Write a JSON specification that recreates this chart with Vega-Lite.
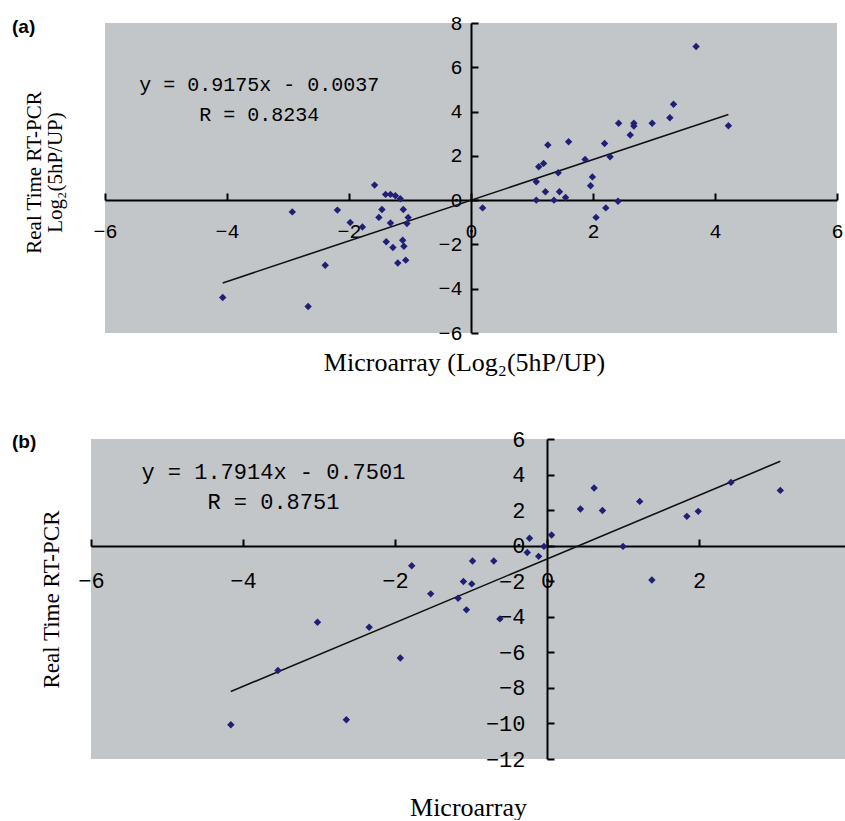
{
  "$schema": "https://vega.github.io/schema/vega-lite/v6.json",
  "background": "white",
  "padding": {"left": 12, "top": 13, "right": 0, "bottom": 0},
  "config": {
    "view": {"fill": "#c3c6c9", "stroke": null},
    "axis": {"grid": false, "domainColor": "black", "domainWidth": 2, "tickColor": "black", "tickWidth": 2, "tickSize": -7, "labelColor": "black", "titleColor": "black", "labelFont": "Liberation Mono", "labelFlush": false, "labelOverlap": false, "titleFont": "Liberation Serif", "titleFontWeight": "normal"},
    "title": {"font": "Liberation Sans", "fontWeight": "bold", "color": "black"}
  },
  "datasets": {
    "a_points": [
      {"x": -1.58, "y": 0.68}, {"x": -2.93, "y": -0.53}, {"x": -2.19, "y": -0.45}, {"x": -1.98, "y": -1.01},
      {"x": -1.78, "y": -1.21}, {"x": -1.46, "y": -0.42}, {"x": -1.51, "y": -0.78}, {"x": -1.40, "y": 0.26},
      {"x": -1.32, "y": 0.26}, {"x": -1.24, "y": 0.20}, {"x": -1.16, "y": 0.06}, {"x": -1.11, "y": -0.42},
      {"x": -1.03, "y": -0.78}, {"x": -1.05, "y": -1.06}, {"x": -1.32, "y": -1.03}, {"x": -1.39, "y": -1.88},
      {"x": -1.28, "y": -2.14}, {"x": -1.12, "y": -1.81}, {"x": -1.10, "y": -2.08}, {"x": -1.20, "y": -2.84},
      {"x": -1.07, "y": -2.71}, {"x": -2.39, "y": -2.94}, {"x": -4.07, "y": -4.40}, {"x": -2.67, "y": -4.80},
      {"x": 0.19, "y": -0.35}, {"x": 1.07, "y": 0.0}, {"x": 1.07, "y": 0.83}, {"x": 1.11, "y": 1.51},
      {"x": 1.19, "y": 1.66}, {"x": 1.26, "y": 2.49}, {"x": 1.22, "y": 0.38}, {"x": 1.36, "y": 0.0},
      {"x": 1.43, "y": 1.24}, {"x": 1.45, "y": 0.38}, {"x": 1.55, "y": 0.12}, {"x": 1.60, "y": 2.64},
      {"x": 1.87, "y": 1.84}, {"x": 1.96, "y": 0.65}, {"x": 1.99, "y": 1.05}, {"x": 2.05, "y": -0.78},
      {"x": 2.21, "y": -0.35}, {"x": 2.19, "y": 2.56}, {"x": 2.28, "y": 1.96}, {"x": 2.41, "y": -0.05},
      {"x": 2.42, "y": 3.47}, {"x": 2.61, "y": 2.94}, {"x": 2.67, "y": 3.47}, {"x": 2.67, "y": 3.35},
      {"x": 2.97, "y": 3.47}, {"x": 3.26, "y": 3.72}, {"x": 3.32, "y": 4.33}, {"x": 3.69, "y": 6.94},
      {"x": 4.22, "y": 3.36}
    ],
    "a_fit": [{"x": -4.07, "y": -3.738}, {"x": 4.22, "y": 3.868}],
    "a_eq": [{"x": -3.47, "y": 5.2}],
    "b_points": [
      {"x": -1.78, "y": -1.13}, {"x": -1.53, "y": -2.71}, {"x": -1.17, "y": -2.96}, {"x": -1.10, "y": -2.02},
      {"x": -1.06, "y": -3.61}, {"x": -3.02, "y": -4.31}, {"x": -2.34, "y": -4.59}, {"x": -3.54, "y": -7.02},
      {"x": -1.93, "y": -6.32}, {"x": -4.16, "y": -10.07}, {"x": -2.64, "y": -9.79},
      {"x": -0.98, "y": -0.86}, {"x": -0.70, "y": -0.86}, {"x": -0.99, "y": -2.15}, {"x": -0.62, "y": -4.12},
      {"x": -0.23, "y": 0.42}, {"x": -0.26, "y": -0.38}, {"x": -0.11, "y": -0.60}, {"x": -0.04, "y": -0.04},
      {"x": 0.06, "y": 0.60}, {"x": 0.44, "y": 2.06}, {"x": 0.62, "y": 3.24}, {"x": 0.73, "y": 1.98},
      {"x": 1.00, "y": -0.04}, {"x": 1.22, "y": 2.49}, {"x": 1.38, "y": -1.93}, {"x": 1.84, "y": 1.65},
      {"x": 1.99, "y": 1.93}, {"x": 2.42, "y": 3.56}, {"x": 3.07, "y": 3.11}
    ],
    "b_fit": [{"x": -4.16, "y": -8.202}, {"x": 3.07, "y": 4.7495}],
    "b_eq": [{"x": -3.6, "y": 4.16}]
  },
  "vconcat": [
    {
      "width": 732,
      "height": 310,
      "title": {"text": "(a)", "anchor": "start", "frame": "group", "fontSize": 19, "dx": -93, "dy": 39, "offset": 0, "baseline": "alphabetic"},
      "encoding": {
        "x": {"field": "x", "type": "quantitative",
          "scale": {"domain": [-6, 6], "nice": false, "zero": false},
          "axis": {"orient": "bottom", "offset": -133, "values": [-6, -4, -2, 0, 2, 4, 6], "format": "d", "labelFontSize": 20, "labelPadding": 28,
            "title": "Microarray (Log₂(5hP/UP)", "titleFontSize": 26, "titleX": 359, "titleY": 170, "titleAlign": "center", "titleBaseline": "alphabetic"}},
        "y": {"field": "y", "type": "quantitative",
          "scale": {"domain": [-6, 8], "nice": false, "zero": false},
          "axis": {"orient": "left", "offset": -366, "values": [-6, -4, -2, 0, 2, 4, 6, 8], "format": "d", "labelFontSize": 20, "labelPadding": 16,
            "title": ["Real Time RT-PCR", "Log₂(5hP/UP)"], "titleFontSize": 21, "titleLineHeight": 21, "titleAngle": -90, "titleX": -431, "titleY": 149, "titleAlign": "center", "titleBaseline": "alphabetic"}}
      },
      "layer": [
        {"data": {"name": "a_fit"}, "mark": {"type": "line", "color": "#111111", "strokeWidth": 1.6}},
        {"data": {"name": "a_points"}, "mark": {"type": "point", "shape": "diamond", "filled": true, "color": "#1f1f75", "opacity": 1, "size": 55}},
        {"data": {"name": "a_eq"}, "mark": {"type": "text", "text": ["y = 0.9175x - 0.0037", "R = 0.8234"], "font": "Liberation Mono", "fontSize": 20, "align": "center", "baseline": "middle", "lineHeight": 30, "color": "black"}}
      ]
    },
    {
      "width": 760,
      "height": 320,
      "title": {"text": "(b)", "anchor": "start", "frame": "group", "fontSize": 19, "dx": -79, "dy": 39, "offset": 0, "baseline": "alphabetic"},
      "encoding": {
        "x": {"field": "x", "type": "quantitative",
          "scale": {"domain": [-6, 4], "nice": false, "zero": false},
          "axis": {"orient": "bottom", "offset": -213, "values": [-6, -4, -2, 0, 2, 4], "format": "d", "labelFontSize": 22, "labelPadding": 31,
            "title": "Microarray", "titleFontSize": 26, "titleX": 377, "titleY": 269, "titleAlign": "center", "titleBaseline": "alphabetic"}},
        "y": {"field": "y", "type": "quantitative",
          "scale": {"domain": [-12, 6], "nice": false, "zero": false},
          "axis": {"orient": "left", "offset": -456, "values": [-12, -10, -8, -6, -4, -2, 0, 2, 4, 6], "format": "d", "labelFontSize": 22, "labelPadding": 29,
            "title": "Real Time RT-PCR", "titleFontSize": 23, "titleAngle": -90, "titleX": -489, "titleY": 160, "titleAlign": "center", "titleBaseline": "alphabetic"}}
      },
      "layer": [
        {"data": {"name": "b_fit"}, "mark": {"type": "line", "color": "#111111", "strokeWidth": 1.6}},
        {"data": {"name": "b_points"}, "mark": {"type": "point", "shape": "diamond", "filled": true, "color": "#1f1f75", "opacity": 1, "size": 55}},
        {"data": {"name": "b_eq"}, "mark": {"type": "text", "text": ["y = 1.7914x - 0.7501", "R = 0.8751"], "font": "Liberation Mono", "fontSize": 22, "align": "center", "baseline": "middle", "lineHeight": 30, "color": "black"}}
      ]
    }
  ],
  "bounds": "flush",
  "center": true,
  "spacing": 106
}
